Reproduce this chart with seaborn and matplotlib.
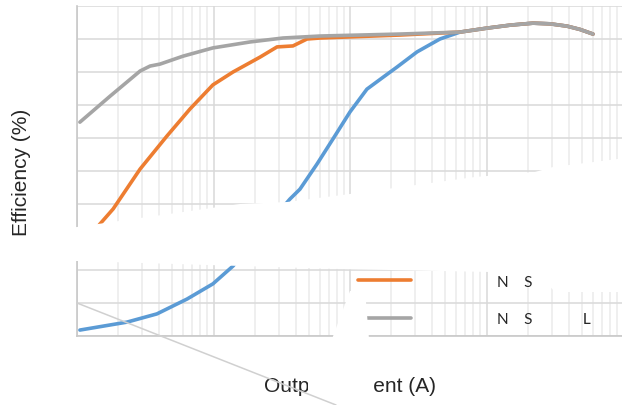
import numpy as np
import pandas as pd
import matplotlib.pyplot as plt
import seaborn as sns
from matplotlib.patches import Polygon
from matplotlib.lines import Line2D

# output current (A) and efficiency (%)
blue_x = [0.00105, 0.00232, 0.00385, 0.0064, 0.0099, 0.0139, 0.0219, 0.0363, 0.043, 0.0573, 0.075,
          0.1, 0.133, 0.1745, 0.221, 0.31, 0.456, 0.64, 1.01, 1.49, 2.19, 2.92, 3.89, 4.84, 6.03]
blue_eff = [1.8, 4.2, 6.7, 11.2, 15.8, 21.2, 30.9, 41.5, 44.5, 52.1, 59.7,
            67.9, 74.8, 78.4, 81.5, 86.1, 90.0, 92.1, 93.3, 94.2, 94.8, 94.6, 93.9, 92.9, 91.5]

orange_x = [0.00105, 0.00147, 0.00184, 0.0029, 0.00456, 0.00673, 0.0099, 0.0139, 0.0219, 0.0292,
            0.0382, 0.0484, 0.0603, 0.232, 0.64, 1.01, 1.49, 2.19, 2.92, 3.89, 4.84, 6.03]
orange_eff = [26.0, 33.9, 38.5, 50.6, 60.6, 68.8, 76.1, 80.0, 84.5, 87.6,
              87.9, 90.0, 90.3, 91.2, 92.1, 93.3, 94.2, 94.8, 94.6, 93.9, 92.9, 91.5]

gray_x = [0.00105, 0.00175, 0.0029, 0.00343, 0.00406, 0.00598, 0.0099, 0.0185, 0.0323, 0.0603,
          0.232, 0.64, 1.01, 1.49, 2.19, 2.92, 3.89, 4.84, 6.03]
gray_eff = [64.8, 72.7, 80.3, 81.8, 82.4, 84.8, 87.3, 89.1, 90.3, 90.9,
            91.5, 92.1, 93.3, 94.2, 94.8, 94.6, 93.9, 92.9, 91.5]

series = ["s1", "s2", "s3"]
legend_labels = ["N    S             L", "N    S             L", "N    S             L"]
colors = ["#5B9BD5", "#ED7D31", "#A5A5A5"]

df = pd.concat([
    pd.DataFrame({"current": blue_x, "eff": blue_eff, "series": series[0]}),
    pd.DataFrame({"current": orange_x, "eff": orange_eff, "series": series[1]}),
    pd.DataFrame({"current": gray_x, "eff": gray_eff, "series": series[2]}),
])

sns.set_style("white")
plt.rcParams["font.family"] = ["Liberation Sans", "DejaVu Sans"]

W, H = 622, 406
def px(x, y):
    return (x / W, 1 - y / H)

fig = plt.figure(figsize=(6.22, 4.06), dpi=100)
ax = fig.add_axes([77 / W, 69 / H, 546 / W, 330 / H])

sns.lineplot(data=df, x="current", y="eff", hue="series", palette=colors,
             sort=False, estimator=None, lw=2.6, ax=ax, legend=False)

ax.set_xscale("log")
ax.set_xlim(1e-3, 1e1)
ax.set_ylim(0, 100)
ax.set_yticks(np.arange(0, 101, 10))
ax.grid(which="major", axis="both", color="#d9d9d9", lw=1.1)
ax.grid(which="minor", axis="x", color="#ebebeb", lw=1.1)
ax.set_axisbelow(True)
ax.tick_params(which="both", length=0, labelbottom=False, labelleft=False)
for s in ["top", "right"]:
    ax.spines[s].set_visible(False)
for s in ["left", "bottom"]:
    ax.spines[s].set_color("#c8c8c8")
    ax.spines[s].set_linewidth(1.2)

ax.set_xlabel("Output Current (A)", fontsize=15, labelpad=29)
ax.set_ylabel("Efficiency (%)", fontsize=15, labelpad=33)

handles = [Line2D([], [], color=c, lw=2.6) for c in colors]
ax.legend(handles, legend_labels, loc="upper left", bbox_to_anchor=px(358, 238),
          bbox_transform=fig.transFigure, frameon=False, handlelength=3.5,
          handletextpad=5.6, labelspacing=1.55, borderpad=0, borderaxespad=0,
          prop={"family": ["Lato", "DejaVu Sans"], "size": 11})

# blank regions of the picture
band = [(60, 230), (77, 228), (98, 225), (240, 205), (287, 203), (350, 195), (475, 178),
        (535, 173), (553, 168), (618, 160), (625, 159), (625, 293), (555, 293), (540, 277),
        (500, 276), (490, 273), (340, 270), (77, 262), (60, 262)]
wedge = [(350, 292), (366, 292), (366, 303), (369, 340), (332, 340)]
gap = [(308, 362), (374, 362), (374, 402), (308, 402)]
for shape in [band, wedge, gap]:
    fig.add_artist(Polygon([px(*p) for p in shape], closed=True, transform=fig.transFigure,
                           facecolor="white", edgecolor="none", zorder=5))

p0, p1 = px(77, 304), px(336, 406)
fig.add_artist(Line2D([p0[0], p1[0]], [p0[1], p1[1]], transform=fig.transFigure,
                      color="#d0d0d0", lw=1.1, zorder=6))

fig.savefig("out.png", dpi=100)
